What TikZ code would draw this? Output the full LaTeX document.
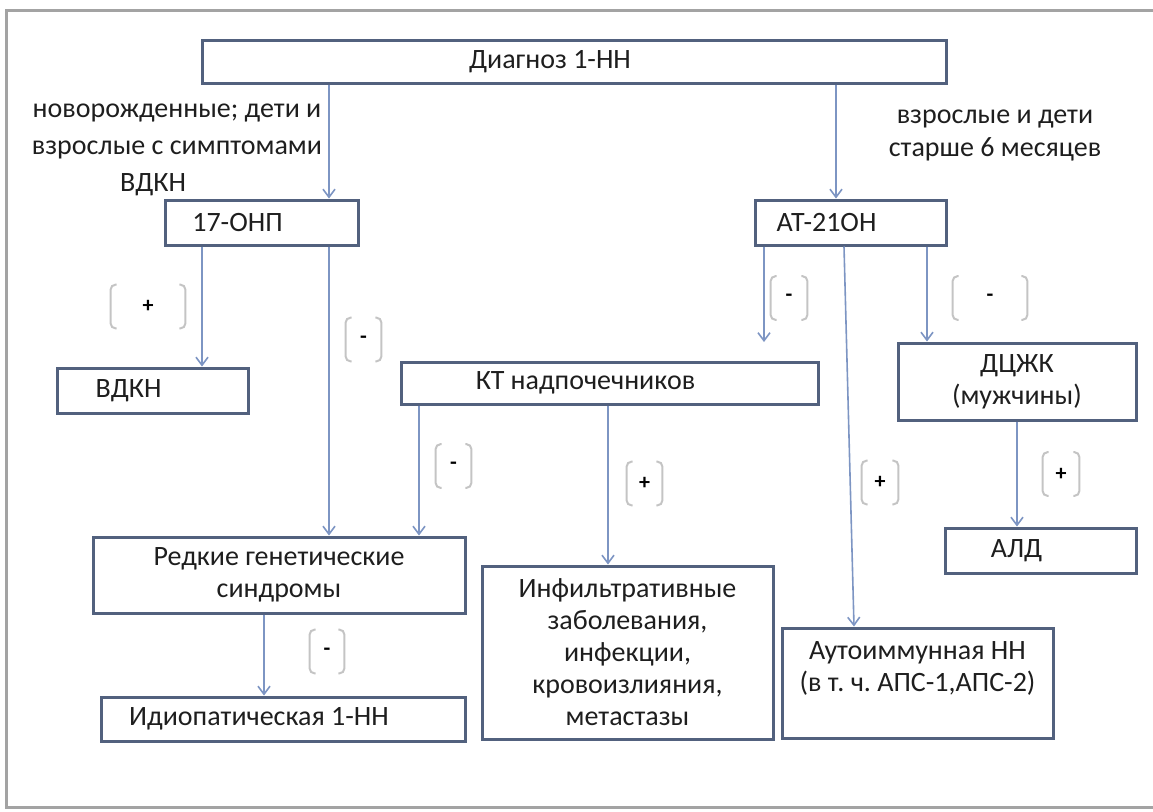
\documentclass[tikz,border=0pt]{standalone}
\usepackage{fontspec}
\setmainfont{Carlito}
\usetikzlibrary{arrows.meta}
\frenchspacing
\definecolor{boxline}{HTML}{52617E}
\definecolor{arrline}{HTML}{7D95C3}
\definecolor{brkline}{HTML}{C4C4C4}
\definecolor{frameline}{HTML}{A3A3A3}
\definecolor{txt}{HTML}{1E1E1E}

\begin{document}
\begin{tikzpicture}[x=0.5pt,y=-0.5pt,
  every node/.style={font=\fontsize{14}{16}\selectfont,text=txt},
  box/.style={draw=boxline,line width=1.5pt,inner sep=2pt},
  lshift/.style={execute at end node={\hspace*{24pt}}},
  arr/.style={draw=arrline,line width=0.8pt,-{Straight Barb[length=4pt,width=6pt]}},
  sgn/.style={font=\fontsize{11}{12}\selectfont\bfseries,text=black,minimum height=21.5pt,inner sep=0pt},
  brk/.style={draw=brkline,line width=1pt,rounded corners=2.5pt}]
\useasboundingbox (0,0) rectangle (1153,811);
\draw[frameline,line width=1.5pt] (1153,10) -- (6,10) -- (6,807) -- (1153,807);
% boxes
\node[box,lshift,minimum width=372pt,minimum height=21.5pt] (diag) at (574,61.5) {Диагноз 1-НН};
\node[box,lshift,minimum width=96.5pt,minimum height=22.5pt] (onp) at (261.5,222.5) {17-ОНП};
\node[box,lshift,minimum width=95.5pt,minimum height=22.5pt] (at) at (850.5,222.5) {АТ-21ОН};
\node[box,lshift,minimum width=95.5pt,minimum height=22.5pt] (vdkn) at (152.5,390.5) {ВДКН};
\node[box,lshift,minimum width=208.5pt,minimum height=21pt] (kt) at (609.5,383) {КТ надпочечников};
\node[box,align=center,minimum width=119pt,minimum height=38.5pt] (dcjk) at (1017,381.5) {ДЦЖК\\(мужчины)};
\node[box,align=center,minimum width=186pt,minimum height=38pt] (rare) at (279,575) {Редкие генетические\\синдромы};
\node[box,align=center,minimum width=145.5pt,minimum height=86.5pt] (infl) at (627.5,652.5)
  {Инфильтративные\\заболевания,\\инфекции,\\кровоизлияния,\\метастазы};
\node[box,align=center,minimum width=135.5pt,minimum height=55pt] (auto) at (917.5,683)
  {Аутоиммунная НН\\(в т. ч. АПС-1,АПС-2)\\\mbox{}};
\node[box,lshift,minimum width=182pt,minimum height=22pt] (idio) at (283,719) {Идиопатическая 1-НН};
\node[box,lshift,minimum width=95.5pt,minimum height=22.5pt] (ald) at (1040.5,550.5) {АЛД};
% group labels
\node[align=center,font=\fontsize{14}{18.5}\selectfont] (kids) at (177,150)
  {новорожденные; дети и\\взрослые с симптомами\\ВДКН\hspace*{24pt}};
\node[align=center,font=\fontsize{14}{16.5}\selectfont] (adults) at (995,135.5)
  {взрослые и дети\\старше 6 месяцев};
% connectors
\coordinate (ktin) at (764,342);
\draw[arr] (diag.south -| 329,0) -- (onp.north -| 329,0);
\draw[arr] (diag.south -| 836,0) -- (at.north -| 836,0);
\draw[arr] (onp.south -| 202,0) -- (vdkn.north -| 202,0);
\draw[arr] (onp.south -| 329,0) -- (rare.north -| 329,0);
\draw[arr] (kt.south -| 419,0) -- (rare.north -| 419,0);
\draw[arr] (kt.south -| 608,0) -- (infl.north -| 608,0);
\draw[arr] (at.south -| ktin) -- (ktin);
\draw[arr] (at.south -| 844,0) -- (auto.north -| 854,0);
\draw[arr] (at.south -| 927,0) -- (dcjk.north -| 927,0);
\draw[arr] (dcjk.south -| 1017,0) -- (ald.north -| 1017,0);
\draw[arr] (rare.south -| 264,0) -- (idio.north -| 264,0);
% bracketed signs
\foreach \n/\x/\y/\w/\s in {b1/148/306.5/37/+,b2/363.5/339.5/17.5/-,b3/453.5/466/17.5/-,
  b4/644.5/483.5/17.5/+,b5/789/298/18/-,b6/880/482.5/18/+,b7/990/298/37/-,
  b8/1061/474/18/+,b9/327/651.5/17/-}{
  \node[sgn,minimum width=\w pt] (\n) at (\x,\y) {\s};
  \draw[brk] ([xshift=3pt]\n.north west) -- (\n.north west) -- (\n.south west) -- ([xshift=3pt]\n.south west);
  \draw[brk] ([xshift=-3pt]\n.north east) -- (\n.north east) -- (\n.south east) -- ([xshift=-3pt]\n.south east);}
\end{tikzpicture}
\end{document}
